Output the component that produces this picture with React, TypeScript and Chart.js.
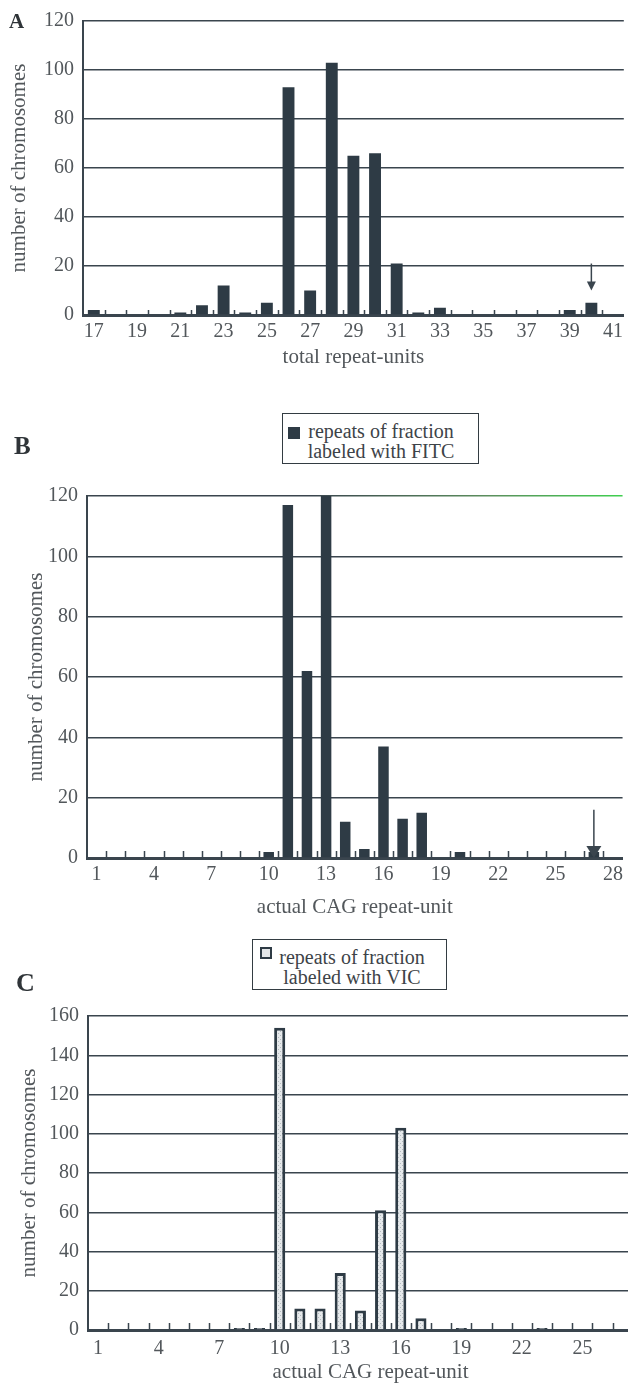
import React, { useEffect, useRef } from 'react';
import { Chart, registerables } from 'chart.js';

Chart.register(...registerables);

// ---------- data ----------
const A_CATEGORIES = ['17','18','19','20','21','22','23','24','25','26','27','28','29','30','31','32','33','34','35','36','37','38','39','40','41'];
const A_VALUES = [2, 0, 0, 0, 1, 4, 12, 1, 5, 93, 10, 103, 65, 66, 21, 1, 3, 0, 0, 0, 0, 0, 2, 5, 0];
const A_X_TITLE = 'total repeat-units';

const B_CATEGORIES = ['1','2','3','4','5','6','7','8','9','10','11','12','13','14','15','16','17','18','19','20','21','22','23','24','25','26','27','28'];
const B_VALUES = [0, 0, 0, 0, 0, 0, 0, 0, 0, 2, 117, 62, 120, 12, 3, 37, 13, 15, 0, 2, 0, 0, 0, 0, 0, 0, 2, 0];
const B_LEGEND = ['repeats of fraction', 'labeled with FITC'];

const C_CATEGORIES = ['1','2','3','4','5','6','7','8','9','10','11','12','13','14','15','16','17','18','19','20','21','22','23','24','25','26','27','28'];
const C_VALUES = [0, 0, 0, 0, 0, 0, 0, 1, 1, 154, 11, 11, 29, 10, 61, 103, 6, 0, 1, 0, 0, 0, 1, 0, 0, 0, 0, 0];
const C_LEGEND = ['repeats of fraction', 'labeled with VIC'];

const BC_X_TITLE = 'actual CAG repeat-unit';
const Y_TITLE = 'number of chromosomes';

const A_ARROW = { category: '40', from: 21, to: 10 };
const B_ARROW = { category: '27', from: 16, to: 0 };

// ---------- styles ----------
const FONT = "'Liberation Serif', 'Times New Roman', serif";
const BAR_DARK = '#2e3b45';
const GRID = '#3a454e';
const TEXT = '#52575b';

function makeDotPattern(): CanvasPattern | string {
  const c = document.createElement('canvas');
  c.width = 4; c.height = 4;
  const g = c.getContext('2d');
  if (!g) return '#dde1e3';
  g.fillStyle = '#e6e9eb';
  g.fillRect(0, 0, 4, 4);
  g.fillStyle = '#b3babf';
  g.fillRect(0, 0, 1, 1);
  g.fillRect(2, 2, 1, 1);
  const p = g.createPattern(c, 'repeat');
  return p || '#dde1e3';
}

const boundaryTicks = (len: number) => ({
  id: 'boundaryTicks',
  beforeDatasetsDraw(chart: any) {
    const x = chart.scales.x, y = chart.scales.y, ctx = chart.ctx;
    const n = chart.data.labels.length;
    const step = x.getPixelForTick(1) - x.getPixelForTick(0);
    const base = y.getPixelForValue(0);
    ctx.save();
    ctx.strokeStyle = GRID;
    ctx.lineWidth = 1.5;
    ctx.beginPath();
    for (let i = 1; i < n; i++) {
      const px = Math.round(x.getPixelForTick(i) - step / 2) + 0.5;
      ctx.moveTo(px, base);
      ctx.lineTo(px, base - len);
    }
    ctx.stroke();
    ctx.restore();
  },
});

const arrowPlugin = (arrow: { category: string; from: number; to: number }, headW: number, headH: number) => ({
  id: 'arrow',
  afterDatasetsDraw(chart: any) {
    const x = chart.scales.x, y = chart.scales.y, ctx = chart.ctx;
    const idx = chart.data.labels.indexOf(arrow.category);
    const px = x.getPixelForValue(idx);
    const y1 = y.getPixelForValue(arrow.from);
    const y2 = y.getPixelForValue(arrow.to);
    ctx.save();
    ctx.strokeStyle = GRID;
    ctx.fillStyle = GRID;
    ctx.lineWidth = 1.5;
    ctx.beginPath();
    ctx.moveTo(px, y1);
    ctx.lineTo(px, y2 - headH + 1);
    ctx.stroke();
    ctx.beginPath();
    ctx.moveTo(px - headW / 2, y2 - headH);
    ctx.lineTo(px + headW / 2, y2 - headH);
    ctx.lineTo(px, y2);
    ctx.closePath();
    ctx.fill();
    ctx.restore();
  },
});

type Cfg = {
  labels: string[];
  values: number[];
  every: number;
  yMax: number;
  xTitle: string;
  width: number;
  height: number;
  left: number;
  top: number;
  padTop: number;
  padRight: number;
  yWidth: number;
  xHeight: number;
  xTickPad: number;
  xTitlePadB: number;
  yTitlePadT: number;
  hollow?: boolean;
  greenTop?: boolean;
  tickLen: number;
  arrow?: { category: string; from: number; to: number };
  headW?: number;
  headH?: number;
};

function buildConfig(cfg: Cfg): any {
  const pattern = cfg.hollow ? makeDotPattern() : null;
  const gridColor = (c: any) => {
    if (cfg.greenTop && c.tick && c.tick.value === cfg.yMax && c.chart.chartArea) {
      const a = c.chart.chartArea;
      const g = c.chart.ctx.createLinearGradient(a.left, 0, a.right, 0);
      g.addColorStop(0, GRID);
      g.addColorStop(0.42, GRID);
      g.addColorStop(0.75, '#5c8f5e');
      g.addColorStop(1, '#3fcf4f');
      return g;
    }
    return GRID;
  };
  const plugins: any[] = [boundaryTicks(cfg.tickLen)];
  if (cfg.arrow) plugins.push(arrowPlugin(cfg.arrow, cfg.headW || 8, cfg.headH || 8));
  return {
    type: 'bar',
    data: {
      labels: cfg.labels,
      datasets: [
        {
          data: cfg.values,
          backgroundColor: cfg.hollow ? pattern : BAR_DARK,
          borderColor: BAR_DARK,
          borderWidth: cfg.hollow ? 3 : 0,
          borderSkipped: 'bottom',
          barPercentage: 0.55,
          categoryPercentage: 1,
        },
      ],
    },
    options: {
      responsive: false,
      animation: false,
      layout: { padding: { top: cfg.padTop, right: cfg.padRight, left: 0, bottom: 0 } },
      plugins: { legend: { display: false }, tooltip: { enabled: false } },
      scales: {
        x: {
          afterFit: (s: any) => { s.height = cfg.xHeight; },
          grid: { display: false, drawTicks: false },
          border: { display: true, color: GRID, width: 3 },
          ticks: {
            autoSkip: false,
            maxRotation: 0,
            minRotation: 0,
            padding: cfg.xTickPad,
            color: TEXT,
            font: { family: FONT, size: 20 },
            callback: (_v: any, i: number) => (i % cfg.every === 0 ? cfg.labels[i] : ''),
          },
          title: {
            display: true,
            text: cfg.xTitle,
            color: TEXT,
            font: { family: FONT, size: 21 },
            padding: { top: 0, bottom: cfg.xTitlePadB },
          },
        },
        y: {
          min: 0,
          max: cfg.yMax,
          afterFit: (s: any) => { s.width = cfg.yWidth; },
          grid: { color: gridColor, lineWidth: 1.5, drawTicks: false },
          border: { display: true, color: GRID, width: 2 },
          ticks: { stepSize: 20, padding: 9, color: TEXT, font: { family: FONT, size: 20 } },
          title: {
            display: true,
            text: Y_TITLE,
            color: TEXT,
            font: { family: FONT, size: 21 },
            padding: { top: cfg.yTitlePadT, bottom: 0 },
          },
        },
      },
    },
    plugins,
  };
}

function Panel({ cfg }: { cfg: Cfg }) {
  const ref = useRef<HTMLCanvasElement>(null);
  useEffect(() => {
    if (!ref.current) return;
    const chart = new Chart(ref.current, buildConfig(cfg));
    return () => chart.destroy();
  }, []);
  return (
    <canvas
      ref={ref}
      width={cfg.width}
      height={cfg.height}
      style={{ position: 'absolute', left: cfg.left, top: cfg.top, width: cfg.width, height: cfg.height }}
    />
  );
}

const CFG_A: Cfg = {
  labels: A_CATEGORIES, values: A_VALUES, every: 2, yMax: 120, xTitle: A_X_TITLE,
  width: 628, height: 380, left: 0, top: 0, padTop: 16, padRight: 0,
  yWidth: 83, xHeight: 65, xTickPad: 5, xTitlePadB: 10, yTitlePadT: 7,
  tickLen: 5, arrow: A_ARROW, headW: 9, headH: 9,
};

const CFG_B: Cfg = {
  labels: B_CATEGORIES, values: B_VALUES, every: 3, yMax: 120, xTitle: BC_X_TITLE,
  width: 628, height: 450, left: 0, top: 475, padTop: 17, padRight: 0,
  yWidth: 87, xHeight: 67, xTickPad: 5, xTitlePadB: 5, yTitlePadT: 24,
  tickLen: 7, greenTop: true, arrow: B_ARROW, headW: 15, headH: 12,
};

const CFG_C: Cfg = {
  labels: C_CATEGORIES, values: C_VALUES, every: 3, yMax: 160, xTitle: BC_X_TITLE,
  width: 660, height: 391, left: 0, top: 995, padTop: 18, padRight: 5,
  yWidth: 88, xHeight: 56, xTickPad: 7, xTitlePadB: 1, yTitlePadT: 17,
  tickLen: 7, hollow: true,
};

function LegendBox({ left, top, width, height, lines, hollow, textLeft, textWidth, markerLeft, markerTop }: any) {
  return (
    <div
      style={{
        position: 'absolute', left, top, width, height, boxSizing: 'border-box',
        border: '1.5px solid #333c42', background: '#fff', fontFamily: FONT, fontSize: 20, color: '#3d4348',
      }}
    >
      <div
        style={{
          position: 'absolute', left: markerLeft, top: markerTop, width: 12, height: 12, boxSizing: 'border-box',
          background: hollow ? '#e3e6e8' : BAR_DARK, border: hollow ? `2px solid ${BAR_DARK}` : 'none',
        }}
      />
      <div style={{ position: 'absolute', left: textLeft, top: 7, width: textWidth, textAlign: 'center', lineHeight: '20px' }}>
        <div>{lines[0]}</div>
        <div>{lines[1]}</div>
      </div>
    </div>
  );
}

export default function App() {
  const letter = (t: string, left: number, top: number, size: number) => (
    <div style={{ position: 'absolute', left, top, fontFamily: FONT, fontWeight: 'bold', fontSize: size, lineHeight: 1, color: '#2f3438' }}>{t}</div>
  );
  return (
    <div style={{ position: 'absolute', left: 0, top: 0, width: 628, height: 1386, overflow: 'hidden', background: '#fff' }}>
      <Panel cfg={CFG_A} />
      <Panel cfg={CFG_B} />
      <Panel cfg={CFG_C} />
      {letter('A', 9, 11, 21)}
      {letter('B', 14, 433, 25)}
      {letter('C', 16, 970, 26)}
      <LegendBox left={282} top={413} width={197} height={51} lines={B_LEGEND} hollow={false}
        markerLeft={5} markerTop={13} textLeft={17} textWidth={162} />
      <LegendBox left={252} top={939} width={195} height={51} lines={C_LEGEND} hollow={true}
        markerLeft={7} markerTop={7} textLeft={23} textWidth={152} />
    </div>
  );
}
